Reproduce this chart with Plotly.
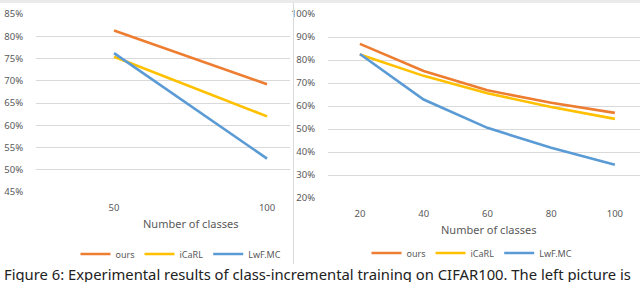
import plotly.graph_objects as go

# ---- data ----
left_classes = ["50", "100"]
left_ours = [0.813, 0.692]
left_icarl = [0.754, 0.620]
left_lwf = [0.762, 0.525]

right_classes = ["20", "40", "60", "80", "100"]
right_ours = [0.870, 0.752, 0.668, 0.614, 0.570]
right_icarl = [0.824, 0.731, 0.655, 0.596, 0.544]
right_lwf = [0.826, 0.628, 0.505, 0.418, 0.345]

series_names = ["ours", "iCaRL", "LwF.MC"]
colors = ["#ED7D31", "#FFC000", "#5B9BD5"]

W, H = 640, 282
FONT = "Noto Sans"
GRAY = "#595959"
GRID = "#D9D9D9"

fig = go.Figure()

for name, vals, c in zip(series_names, [left_ours, left_icarl, left_lwf], colors):
    fig.add_trace(go.Scatter(x=left_classes, y=vals, name=name, mode="lines",
                             line=dict(color=c, width=2.6), xaxis="x", yaxis="y",
                             legend="legend"))
for name, vals, c in zip(series_names, [right_ours, right_icarl, right_lwf], colors):
    fig.add_trace(go.Scatter(x=right_classes, y=vals, name=name, mode="lines",
                             line=dict(color=c, width=2.6), xaxis="x2", yaxis="y2",
                             legend="legend2"))

def px(x):
    return x / W

def py(y):
    return 1 - y / H

tickfont = dict(family=FONT, size=9.5, color=GRAY)

fig.update_layout(
    width=W, height=H,
    margin=dict(l=0, r=0, t=0, b=0, autoexpand=False),
    paper_bgcolor="white", plot_bgcolor="white",
    xaxis=dict(type="category", domain=[px(36), px(290)], range=[-0.51, 1.15],
               showgrid=False, zeroline=False, showline=False, automargin=False,
               ticks="outside", ticklen=7, tickcolor="rgba(0,0,0,0)",
               tickfont=tickfont, anchor="y"),
    yaxis=dict(domain=[py(192), py(14)], range=[0.45, 0.85], dtick=0.05,
               tickformat=".0%", showgrid=True, gridcolor=GRID, gridwidth=1,
               zeroline=False, showline=False, automargin=False,
               ticks="outside", ticklen=10, tickcolor="rgba(0,0,0,0)",
               tickfont=tickfont, anchor="x"),
    xaxis2=dict(type="category", domain=[px(328), 1.0], range=[-0.5, 4.394],
                showgrid=False, zeroline=False, showline=False, automargin=False,
                ticks="outside", ticklen=7, tickcolor="rgba(0,0,0,0)",
                tickfont=tickfont, anchor="y2"),
    yaxis2=dict(domain=[py(198), py(14)], range=[0.2, 1.0], dtick=0.1,
                tickformat=".0%", showgrid=True, gridcolor=GRID, gridwidth=1,
                zeroline=False, showline=False, automargin=False,
                ticks="outside", ticklen=10, tickcolor="rgba(0,0,0,0)",
                tickfont=tickfont, anchor="x2"),
    legend=dict(orientation="h", x=px(181), y=py(254), xanchor="center", yanchor="middle",
                font=dict(family=FONT, size=9, color=GRAY), itemwidth=30,
                bgcolor="rgba(0,0,0,0)", tracegroupgap=0),
    legend2=dict(orientation="h", x=px(472), y=py(253), xanchor="center", yanchor="middle",
                 font=dict(family=FONT, size=9, color=GRAY), itemwidth=30,
                 bgcolor="rgba(0,0,0,0)", tracegroupgap=0),
    annotations=[
        dict(text="Number of classes", x=px(190), y=py(223), xref="paper", yref="paper",
             showarrow=False, xanchor="center", yanchor="middle",
             font=dict(family=FONT, size=11, color=GRAY)),
        dict(text="Number of classes", x=px(488), y=py(229), xref="paper", yref="paper",
             showarrow=False, xanchor="center", yanchor="middle",
             font=dict(family=FONT, size=11, color=GRAY)),
        dict(text="Figure 6: Experimental results of class-incremental training on CIFAR100. The left picture is",
             x=px(2), y=py(262), xref="paper", yref="paper", showarrow=False,
             xanchor="left", yanchor="top",
             font=dict(family=FONT, size=14.8, color="#222222")),
    ],
    shapes=[
        dict(type="rect", xref="paper", yref="paper", x0=0, x1=1, y0=py(3), y1=1,
             fillcolor="#EBEBEB", line=dict(width=0), layer="below"),
        dict(type="line", xref="paper", yref="paper", x0=px(293.5), x1=px(293.5),
             y0=py(264), y1=py(3), line=dict(color=GRID, width=1)),
    ],
)

fig.write_html("out.html", config={"displayModeBar": False},
               post_script="document.body.style.margin='0';")
